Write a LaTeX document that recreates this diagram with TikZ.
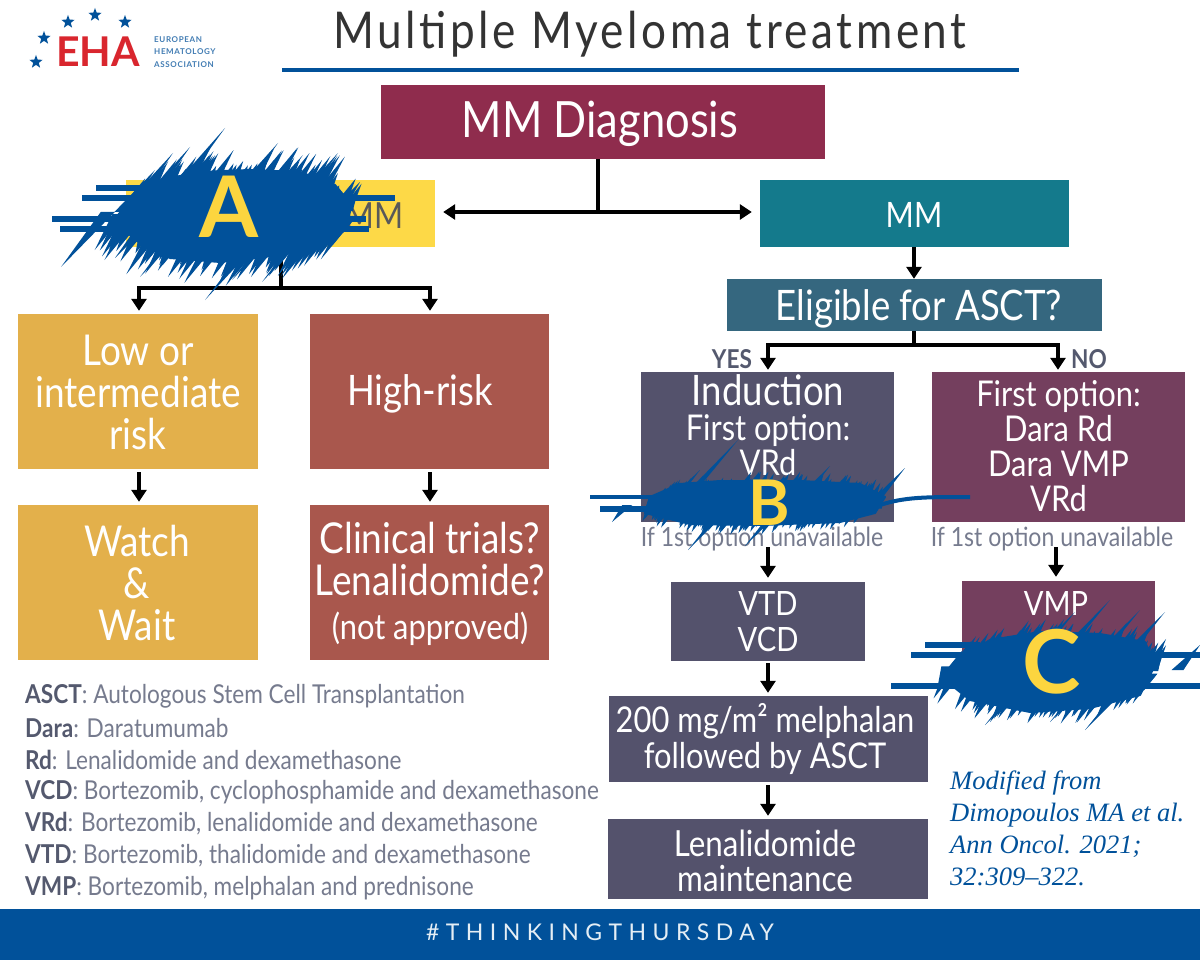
\documentclass[tikz,border=0pt]{standalone}
\usepackage{fontspec}
\usetikzlibrary{arrows.meta,shapes.geometric}
\setmainfont[FakeStretch=0.87]{Lato}
\newfontfamily\plainf{Lato}
\newfontfamily\titlef[FakeStretch=0.87,LetterSpace=7]{Lato}
\newfontfamily\footf[LetterSpace=28]{Lato}
\newfontfamily\citef{Liberation Serif}
\definecolor{ehablue}{HTML}{01519A}
\definecolor{ehared}{HTML}{D9262E}
\definecolor{scrY}{HTML}{FCD53F}
\definecolor{cDiag}{HTML}{8F2C4D}
\definecolor{cYel}{HTML}{FDD947}
\definecolor{cTeal}{HTML}{147A8C}
\definecolor{cElig}{HTML}{35677F}
\definecolor{cGold}{HTML}{E3B04B}
\definecolor{cBrick}{HTML}{A9574D}
\definecolor{cSlate}{HTML}{54526C}
\definecolor{cPlum}{HTML}{743F5E}
\definecolor{cLeg}{HTML}{767B8E}
\definecolor{cLegB}{HTML}{54596E}
\newcommand{\fz}[2]{\fontsize{#1}{#2}\selectfont}
\newcommand{\lgd}[2]{{\bfseries\color{cLegB}#1}: #2}
% random brush spikes round a core: cx, cy, rx, ry, seed, max extra length
\newcommand{\scrib}[6]{%
  \pgfmathsetseed{#5}%
  \foreach \i in {1,...,70}{%
    \pgfmathsetmacro\tt{2*rnd-1}%
    \pgfmathsetmacro\ln{8+rnd*#6}%
    \pgfmathsetmacro\hh{#4*sqrt(1-\tt*\tt)}%
    \pgfmathsetmacro\bx{#1+#3*\tt}%
    \fill[ehablue] ({\bx-6},{#2-\hh+8}) -- ({\bx+\ln*0.85},{#2-\hh-\ln}) -- ({\bx+6},{#2-\hh+8}) -- cycle;
    \pgfmathsetmacro\tt{2*rnd-1}%
    \pgfmathsetmacro\ln{8+rnd*#6}%
    \pgfmathsetmacro\hh{#4*sqrt(1-\tt*\tt)}%
    \pgfmathsetmacro\bx{#1+#3*\tt}%
    \fill[ehablue] ({\bx-6},{#2+\hh-8}) -- ({\bx-\ln*0.85},{#2+\hh+\ln}) -- ({\bx+6},{#2+\hh-8}) -- cycle;
  }}
\tikzset{
  bx/.style={rectangle,inner sep=0,text=white,align=center,anchor=center},
  arr/.style={draw=black,line width=3.4pt,-{Triangle[length=12pt,width=15pt]}},
  ln/.style={draw=black,line width=3.4pt},
  scrh/.style={draw=ehablue,line width=6pt},
  core/.style={fill=ehablue,draw=ehablue,line width=2pt,line join=round},
  star5/.style={star,star points=5,star point ratio=2.4,fill=ehablue,inner sep=0,minimum size=14pt},
  legend/.style={anchor=west,inner sep=0,text=cLeg,font=\fz{26}{28}},
  txt/.style={inner sep=0,text=white,align=center},
  big/.style={inner sep=0,text=scrY,font=\plainf\bfseries},
}
\begin{document}
\begin{tikzpicture}[x=1pt,y=-1pt]
\useasboundingbox (0,0) rectangle (1200,960);
\fill[white] (0,0) rectangle (1200,960);
% logo
\foreach \n/\x/\y in {s1/95/15,s2/68/22,s3/125/22,s4/44/38,s5/36/62}
  \node[star5] (\n) at (\x,\y) {};
\node[inner sep=0,text=ehared,font=\plainf\bfseries\fz{41}{41}] (eha) at (98,52) {EHA};
\node[inner sep=0,anchor=west,align=left,text=ehablue!75!white,font=\plainf\bfseries\addfontfeature{LetterSpace=8}\fz{8}{12.3}] (ehat) at (154,52) {EUROPEAN\\HEMATOLOGY\\ASSOCIATION};
% title
\node[inner sep=0,text=black!80,font=\titlef\fz{50.7}{52}] (title) at (650,34) {Multiple Myeloma treatment};
\draw[ehablue,line width=4pt] (282,70) -- (1019,70);
% boxes
\node[bx,fill=cDiag,minimum width=444pt,minimum height=74pt] (diag) at (603,122) {};
\node[txt,font=\fz{50}{50}] (diagt) at (600,124) {MM Diagnosis};
\node[bx,fill=cYel,minimum width=309pt,minimum height=67pt] (smm) at (280.5,213.5) {};
\node[inner sep=0,text=black!65,font=\fz{36}{36}] (smmt) at (374,216) {MM};
\node[bx,fill=cTeal,minimum width=309pt,minimum height=67pt] (mm) at (914.5,213.5) {};
\node[txt,font=\fz{35}{35}] (mmt) at (914,215) {MM};
\node[bx,fill=cElig,minimum width=375pt,minimum height=52pt] (elig) at (914.5,305) {};
\node[txt,font=\fz{42}{42}] (eligt) at (919,309) {Eligible for ASCT?};
\node[bx,fill=cGold,minimum width=240pt,minimum height=155pt] (low) at (138,391.5) {};
\node[txt,font=\fz{42.5}{42}] (lowt) at (138,392) {Low or\\intermediate\\risk};
\node[bx,fill=cBrick,minimum width=239pt,minimum height=155pt] (high) at (429.5,391.5) {};
\node[txt,font=\fz{42}{42}] (hight) at (420,394) {High-risk};
\node[bx,fill=cGold,minimum width=240pt,minimum height=155pt] (watch) at (138,582.5) {};
\node[txt,font=\fz{42.5}{42}] (watcht) at (137,583) {Watch\\\&\\Wait};
\node[bx,fill=cBrick,minimum width=239pt,minimum height=155pt] (clin) at (429.5,582.5) {};
\node[txt,font=\fz{42.5}{42}] (clint) at (430,584) {Clinical trials?\\Lenalidomide?\\[2pt]{\fz{35.5}{36}(not approved)}};
\node[bx,fill=cSlate,minimum width=253pt,minimum height=150pt] (ind) at (767.5,447) {};
\node[txt,font=\fz{35.5}{35}] (indt) at (768,425) {{\fz{42}{36}Induction}\\First option:\\VRd};
\node[bx,fill=cPlum,minimum width=253pt,minimum height=150pt] (first) at (1058.5,447) {};
\node[txt,font=\fz{35.5}{35}] (firstt) at (1058.5,446) {First option:\\Dara Rd\\Dara VMP\\VRd};
\node[bx,fill=cSlate,minimum width=194pt,minimum height=79pt] (vtd) at (768,621.5) {};
\node[txt,font=\fz{33.5}{36}] (vtdt) at (768,621.5) {VTD\\VCD};
\node[bx,fill=cPlum,minimum width=193pt,minimum height=80pt] (vmp) at (1058.5,621) {};
\node[txt,font=\fz{33.5}{36}] (vmpt) at (1056,603) {VMP};
\node[bx,fill=cSlate,minimum width=319pt,minimum height=86pt] (mel) at (768.5,739) {};
\node[txt,font=\fz{35.5}{36}] (melt) at (765,739) {200 mg/m² melphalan\\followed by ASCT};
\node[bx,fill=cSlate,minimum width=320pt,minimum height=80pt] (len) at (768,859) {};
\node[txt,font=\fz{36}{35}] (lent) at (765,861) {Lenalidomide\\maintenance};
% small texts
\node[inner sep=0,text=cLeg,font=\fz{26.5}{26}] (un1) at (762,539) {If 1st option unavailable};
\node[inner sep=0,text=cLeg,font=\fz{26.5}{26}] (un2) at (1052,539) {If 1st option unavailable};
\node[inner sep=0,text=cLegB,font=\bfseries\fz{26}{26}] (yes) at (732,359) {YES};
\node[inner sep=0,text=cLegB,font=\bfseries\fz{26}{26}] (no) at (1089,359) {NO};
% connectors
\coordinate (j1) at (598,212);
\coordinate (j2) at (281,288);
\coordinate (jl) at (139,288);
\coordinate (jr) at (430,288);
\coordinate (j3) at (914,345);
\coordinate (jy) at (768,345);
\coordinate (jn) at (1058,345);
\coordinate (s1) at (768,547);
\coordinate (s2) at (1056,547);
\draw[ln] (diag.south -| j1) -- (j1);
\draw[arr,shorten >=8pt] (j1) -- (smm.east |- j1);
\draw[arr,shorten >=8pt] (j1) -- (mm.west |- j1);
\draw[ln] (smm.south -| j2) -- (j2);
\draw[arr,shorten >=3pt] (j2) -- (jl) -- (jl |- low.north);
\draw[arr,shorten >=3pt] (j2) -- (jr) -- (jr |- high.north);
\draw[arr,shorten <=3pt,shorten >=3pt] (low.south -| jl) -- (watch.north -| jl);
\draw[arr,shorten <=3pt,shorten >=3pt] (high.south -| jr) -- (clin.north -| jr);
\draw[arr] (mm.south -| j3) -- (elig.north -| j3);
\draw[ln] (elig.south -| j3) -- (j3);
\draw[arr,shorten >=2pt] (j3) -- (jy) -- (jy |- ind.north);
\draw[arr,shorten >=2pt] (j3) -- (jn) -- (jn |- first.north);
\draw[arr,shorten >=4pt] (s1) -- (s1 |- vtd.north);
\draw[arr,shorten >=4pt] (s2) -- (s2 |- vmp.north);
\draw[arr,shorten <=2pt,shorten >=3pt] (vtd.south) -- (mel.north -| vtd);
\draw[arr,shorten <=3pt,shorten >=3pt] (mel.south -| vtd) -- (len.north -| vtd);
% scribble A
\fill[core] (130,205) -- (150,190) -- (170,178) -- (200,172) -- (250,170) -- (300,172) -- (335,185) -- (352,205) -- (345,228) -- (320,245) -- (280,255) -- (220,262) -- (170,258) -- (135,240) -- (120,225) -- cycle;
\scrib{235}{216}{118}{40}{11}{24}
\foreach \ex/\ey in {225/128,190/147,173/153,155/170,278/143,338/153,303/155,360/182}
  \fill[ehablue] (\ex,\ey) -- ({\ex-0.8*(212-\ey)-7},212) -- ({\ex-0.8*(212-\ey)+7},212) -- cycle;
\foreach \ex/\ey in {205/300,140/277,61/267,232/280,262/282,115/258}
  \fill[ehablue] (\ex,\ey) -- ({\ex+0.85*(\ey-212)-7},212) -- ({\ex+0.85*(\ey-212)+7},212) -- cycle;
\draw[scrh] (52,219) -- (140,219);
\draw[scrh] (60,229) -- (140,229);
\draw[scrh] (82,198) -- (395,198);
\draw[scrh] (96,188) -- (150,188);
\draw[scrh] (330,219) -- (366,219);
\draw[scrh] (330,229) -- (369,229);
\node[big,font=\plainf\bfseries\fz{85}{85}] (la) at (229,207) {A};
% scribble B
\fill[core] (650,497) -- (680,484) -- (720,481) -- (800,481) -- (860,484) -- (885,497) -- (875,513) -- (840,522) -- (760,525) -- (690,524) -- (645,513) -- cycle;
\scrib{765}{503}{112}{16}{23}{8}
\foreach \ex/\ey in {738/440,905/468,700/470,830/466}
  \fill[ehablue] (\ex,\ey) -- ({\ex-0.9*(505-\ey)-5},505) -- ({\ex-0.9*(505-\ey)+5},505) -- cycle;
\foreach \ex/\ey in {688/550,745/546,612/522}
  \fill[ehablue] (\ex,\ey) -- ({\ex+0.9*(\ey-505)-5},505) -- ({\ex+0.9*(\ey-505)+5},505) -- cycle;
\draw[scrh,line width=4pt] (590,497) -- (660,497);
\draw[scrh,line width=6pt] (600,509) -- (650,509);
\draw[scrh,line width=6pt] (860,509) -- (868,509);
\draw[draw=ehablue,line width=4pt] (880,505) .. controls (905,497) and (925,497) .. (970,497);
\node[big,font=\plainf\bfseries\fz{63}{63}] (lb) at (769,503) {B};
% scribble C
\fill[core] (960,658) -- (990,640) -- (1040,632) -- (1100,634) -- (1145,642) -- (1155,665) -- (1140,695) -- (1090,708) -- (1030,712) -- (970,700) -- (945,680) -- cycle;
\scrib{1052}{672}{105}{30}{37}{16}
\foreach \ex/\ey in {1110/600,1140/610,1165/612,1200/645,1075/612}
  \fill[ehablue] (\ex,\ey) -- ({\ex-0.9*(670-\ey)-6},670) -- ({\ex-0.9*(670-\ey)+6},670) -- cycle;
\foreach \ex/\ey in {985/725,1050/722,1085/730,960/700}
  \fill[ehablue] (\ex,\ey) -- ({\ex+0.9*(\ey-670)-6},670) -- ({\ex+0.9*(\ey-670)+6},670) -- cycle;
\draw[scrh] (911,655) -- (990,655);
\draw[scrh] (925,645) -- (980,645);
\draw[scrh] (891,686) -- (980,686);
\draw[scrh] (1120,655) -- (1200,655);
\draw[scrh] (1120,686) -- (1200,686);
\node[big,font=\plainf\bfseries\fz{88}{88}] (lc) at (1052,662) {C};
% legend
\node[legend] (l1) at (25,696) {\lgd{ASCT}{Autologous Stem Cell Transplantation}};
\node[legend] (l2) at (25,728) {\lgd{Dara}{Daratumumab}};
\node[legend] (l3) at (25,760) {\lgd{Rd}{Lenalidomide and dexamethasone}};
\node[legend] (l4) at (25,792) {\lgd{VCD}{Bortezomib, cyclophosphamide and dexamethasone}};
\node[legend] (l5) at (25,824) {\lgd{VRd}{Bortezomib, lenalidomide and dexamethasone}};
\node[legend] (l6) at (25,856) {\lgd{VTD}{Bortezomib, thalidomide and dexamethasone}};
\node[legend] (l7) at (25,888) {\lgd{VMP}{Bortezomib, melphalan and prednisone}};
% citation
\node[inner sep=0,anchor=west,align=left,text=ehablue,font=\citef\itshape\fz{26.5}{32}] (cite) at (950,828) {Modified from\\Dimopoulos MA et al.\\Ann Oncol. 2021;\\32:309–322.};
% footer
\node[rectangle,fill=ehablue,minimum width=1200pt,minimum height=51pt,inner sep=0] (foot) at (600,934.5) {};
\node[inner sep=0,text=white!90!ehablue,font=\footf\fz{23}{23}] (foott) at (600,932) {\#THINKINGTHURSDAY};
\end{tikzpicture}
\end{document}
